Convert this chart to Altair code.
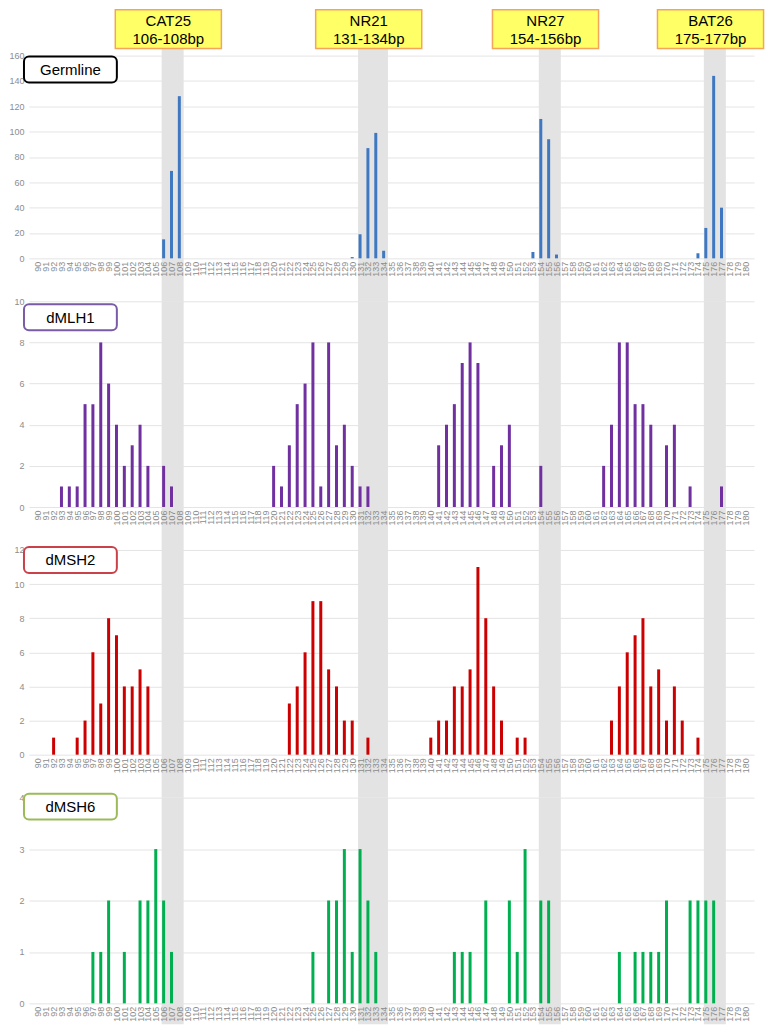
import altair as alt
import pandas as pd

bp_axis = list(range(90, 181))

marker_names = ["CAT25", "NR21", "NR27", "BAT26"]
marker_lo = [106, 131, 154, 175]
marker_hi = [108, 134, 156, 177]

germline_bp = [106, 107, 108, 130, 131, 132, 133, 134, 153, 154, 155, 156, 174, 175, 176, 177]
germline_n = [15, 69, 128, 1, 19, 87, 99, 6, 5, 110, 94, 3, 4, 24, 144, 40]

dmlh1_bp = [93, 94, 95, 96, 97, 98, 99, 100, 101, 102, 103, 104, 106, 107,
            120, 121, 122, 123, 124, 125, 126, 127, 128, 129, 130, 131, 132,
            141, 142, 143, 144, 145, 146, 148, 149, 150, 154,
            162, 163, 164, 165, 166, 167, 168, 170, 171, 173, 177]
dmlh1_n = [1, 1, 1, 5, 5, 8, 6, 4, 2, 3, 4, 2, 2, 1,
           2, 1, 3, 5, 6, 8, 1, 8, 3, 4, 2, 1, 1,
           3, 4, 5, 7, 8, 7, 2, 3, 4, 2,
           2, 4, 8, 8, 5, 5, 4, 3, 4, 1, 1]

dmsh2_bp = [92, 95, 96, 97, 98, 99, 100, 101, 102, 103, 104,
            122, 123, 124, 125, 126, 127, 128, 129, 130, 132,
            140, 141, 142, 143, 144, 145, 146, 147, 148, 149, 151, 152,
            163, 164, 165, 166, 167, 168, 169, 170, 171, 172, 174]
dmsh2_n = [1, 1, 2, 6, 3, 8, 7, 4, 4, 5, 4,
           3, 4, 6, 9, 9, 5, 4, 2, 2, 1,
           1, 2, 2, 4, 4, 5, 11, 8, 4, 2, 1, 1,
           2, 4, 6, 7, 8, 4, 5, 2, 4, 2, 1]

dmsh6_bp = [97, 98, 99, 101, 103, 104, 105, 106, 107,
            125, 127, 128, 129, 130, 131, 132, 133,
            143, 144, 145, 147, 150, 151, 152, 154, 155,
            164, 166, 167, 168, 169, 170, 173, 174, 175, 176]
dmsh6_n = [1, 1, 2, 1, 2, 2, 3, 2, 1,
           1, 2, 2, 3, 1, 3, 2, 1,
           1, 1, 1, 2, 2, 1, 3, 2, 2,
           1, 1, 1, 1, 1, 2, 2, 2, 2, 2]

FONT = "Liberation Sans"
W = 726
SP = 43
XDOM = [89.5, 180.5]

bands = pd.DataFrame({
    "name": marker_names,
    "start": [lo - 0.25 for lo in marker_lo],
    "end": [hi + 0.55 for hi in marker_hi],
    "center": [(lo + hi) / 2 - 0.4 for lo, hi in zip(marker_lo, marker_hi)],
    "line1": marker_names,
    "line2": [f"{lo}-{hi}bp" for lo, hi in zip(marker_lo, marker_hi)],
})
bands["hx"] = bands["center"] - 6.75
bands["hx2"] = bands["center"] + 6.75

xscale = alt.Scale(domain=XDOM, nice=False, zero=False)
x_axis = alt.Axis(values=bp_axis, labelAngle=270, format="d", grid=False,
                  ticks=False, domain=False, labelFontSize=9, labelColor="#8c8c8c",
                  labelFont=FONT, labelPadding=3, labelOverlap=False,
                  labelFlush=False, labelBound=False, title=None, zindex=1)
noview = alt.ViewBackground(stroke="transparent", strokeWidth=0)


def X(field):
    return alt.X(field, scale=xscale, axis=x_axis, title=None)


def panel(label, bp, counts, color, border, ymax, ystep, box_y, h, below,
          first=False):
    df = pd.DataFrame({"bp": bp, "n": counts})
    yscale = alt.Scale(domain=[0, ymax], nice=False)
    y_axis = alt.Axis(values=list(range(0, ymax + 1, ystep)), grid=True,
                      gridColor="#e4e4e4", gridWidth=1, ticks=False, domain=False,
                      labelFontSize=9, labelColor="#8c8c8c", labelFont=FONT,
                      labelPadding=5, title=None, zindex=0)

    band_y = -7 if first else 0
    band = alt.Chart(bands).mark_rect(color="#e3e3e3").encode(
        x=X("start:Q"),
        x2="end:Q",
        y=alt.value(band_y),
        y2=alt.value(h + below),
    )
    bars = alt.Chart(df).mark_bar(size=3, color=color).encode(
        x=X("bp:Q"),
        y=alt.Y("n:Q", scale=yscale, axis=y_axis),
    )
    lab = pd.DataFrame({"label": [label]})
    box = alt.Chart(lab).mark_rect(fill="white", stroke=border, strokeWidth=2,
                                   cornerRadius=5).encode(
        x=alt.value(-5), x2=alt.value(88), y=alt.value(box_y), y2=alt.value(box_y + 26))
    txt = alt.Chart(lab).mark_text(font=FONT, fontSize=15, color="black",
                                   align="center", baseline="middle").encode(
        x=alt.value(41.5), y=alt.value(box_y + 13.5), text="label:N")
    layers = [band, bars, box, txt]
    if first:
        shadow = alt.Chart(bands).mark_rect(color="#b0b0b0", opacity=0.6,
                                            xOffset=2, yOffset=2).encode(
            x=X("hx:Q"), x2="hx2:Q", y=alt.value(-46), y2=alt.value(-7))
        hbox = alt.Chart(bands).mark_rect(fill="#ffff66", stroke="#f5a55a",
                                          strokeWidth=1.5).encode(
            x=X("hx:Q"), x2="hx2:Q", y=alt.value(-46), y2=alt.value(-7))
        t1 = alt.Chart(bands).mark_text(font=FONT, fontSize=15, color="black",
                                        baseline="middle").encode(
            x=X("center:Q"), y=alt.value(-35), text="line1:N")
        t2 = alt.Chart(bands).mark_text(font=FONT, fontSize=15, color="black",
                                        baseline="middle").encode(
            x=X("center:Q"), y=alt.value(-17), text="line2:N")
        layers += [shadow, hbox, t1, t2]
    return alt.layer(*layers).properties(width=W, height=h, view=noview)


p1 = panel("Germline", germline_bp, germline_n, "#3f78c1", "#000000", 160, 20, 1,
           203, SP, first=True)
p2 = panel("dMLH1", dmlh1_bp, dmlh1_n, "#7030a0", "#7a5ba6", 10, 2, 3, 206, SP)
p3 = panel("dMSH2", dmsh2_bp, dmsh2_n, "#cc0000", "#c9424a", 12, 2, -3, 205, SP)
p4 = panel("dMSH6", dmsh6_bp, dmsh6_n, "#00b050", "#9bbb59", 4, 1, -4, 206, 21)

chart = alt.vconcat(p1, p2, p3, p4, spacing=SP, bounds="flush").properties(
    padding={"left": 0, "top": 0, "right": 0, "bottom": 0}
).configure_view(stroke="transparent", strokeWidth=0).configure(background="white")

chart.save("out.html", embed_options={"renderer": "svg", "actions": False})
